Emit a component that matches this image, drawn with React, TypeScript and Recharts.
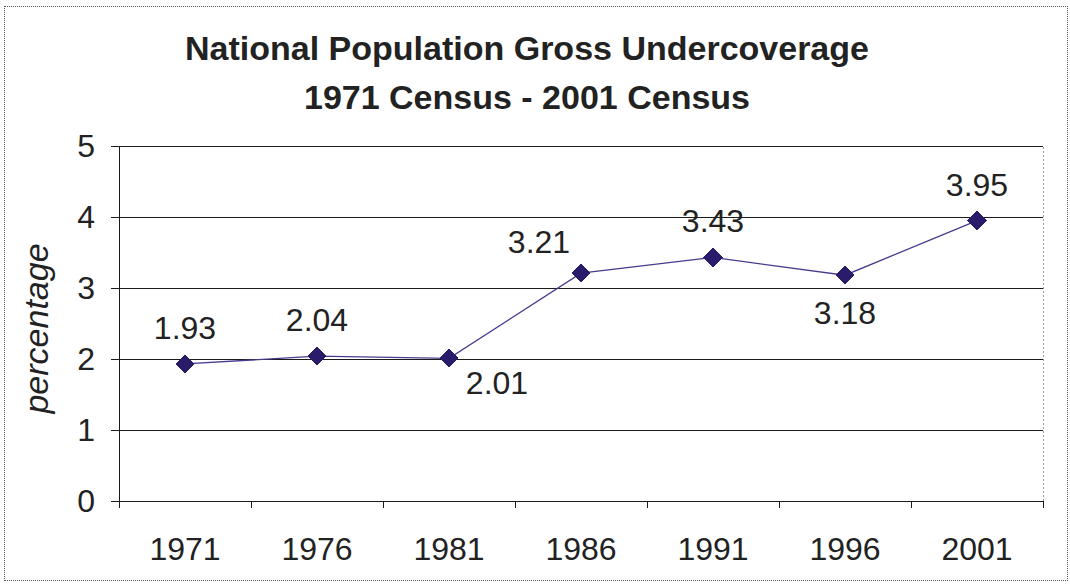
import { CartesianGrid, LabelList, Line, LineChart, ReferenceLine, XAxis, YAxis } from "recharts";

const years = ["1971", "1976", "1981", "1986", "1991", "1996", "2001"];
const undercoverage = [1.93, 2.04, 2.01, 3.21, 3.43, 3.18, 3.95];
const yTicks = [0, 1, 2, 3, 4, 5];
// where each value label sits relative to its point
const labelSpots = ["above", "above", "belowRight", "aboveLeft", "above", "below", "above"];

const data = years.map((year, i) => ({ slot: i + 0.5, year, value: undercoverage[i] }));
const slotTicks = years.map((_, i) => i).concat(years.length);
const labelTicks = years.map((_, i) => i + 0.5);

const font = "'Liberation Sans', Arial, sans-serif";
const ink = "#222";

const Diamond = (props: any) => {
    const { cx, cy } = props;
    if (cx == null || cy == null) return null;
    const r = 9;
    return (
        <path
            d={`M${cx},${cy - r}L${cx + r},${cy}L${cx},${cy + r}L${cx - r},${cy}Z`}
            fill="#2b1b6b"
            stroke="#2b1b6b"
        />
    );
};

const ValueLabel = (props: any) => {
    const { x, y, value, index } = props;
    const spot = labelSpots[index];
    let dx = 0;
    let dy = -36;
    if (spot === "below") dy = 38;
    if (spot === "belowRight") {
        dx = 48;
        dy = 25;
    }
    if (spot === "aboveLeft") {
        dx = -42;
        dy = -31;
    }
    return (
        <text
            x={x + dx}
            y={y + dy}
            textAnchor="middle"
            dominantBaseline="central"
            fontSize={32}
            fontFamily={font}
            fill={ink}
        >
            {value.toFixed(2)}
        </text>
    );
};

const App = () => {
    return (
        <div style={{ position: "absolute", left: 0, top: 0, width: 1070, height: 584, background: "#fff" }}>
            <div
                style={{
                    position: "absolute",
                    left: 4,
                    top: 6,
                    width: 1062,
                    height: 573,
                    border: "1px dotted #555",
                }}
            />
            <div
                style={{
                    position: "absolute",
                    left: 0,
                    width: 1054,
                    top: 24,
                    textAlign: "center",
                    fontFamily: font,
                    fontWeight: "bold",
                    fontSize: 34,
                    lineHeight: "49px",
                    color: ink,
                }}
            >
                <div>National Population Gross Undercoverage</div>
                <div>1971 Census - 2001 Census</div>
            </div>
            <div style={{ position: "absolute", left: 0, top: 0 }}>
                <LineChart
                    width={1070}
                    height={584}
                    data={data}
                    margin={{ top: 146, right: 27, left: 0, bottom: 15 }}
                    style={{ shapeRendering: "crispEdges" }}
                >
                    <CartesianGrid
                        xAxisId="a_slots"
                        vertical={false}
                        stroke="#1a1a1a"
                        strokeWidth={1}
                    />
                    <XAxis
                        xAxisId="a_slots"
                        dataKey="slot"
                        type="number"
                        domain={[0, years.length]}
                        ticks={slotTicks}
                        tickFormatter={() => ""}
                        tickSize={7}
                        height={8}
                        stroke="#1a1a1a"
                    />
                    <XAxis
                        xAxisId="b_labels"
                        dataKey="slot"
                        type="number"
                        domain={[0, years.length]}
                        ticks={labelTicks}
                        tickFormatter={(v: number) => years[Math.floor(v)]}
                        axisLine={false}
                        tickLine={false}
                        tickSize={0}
                        tickMargin={28}
                        height={60}
                        tick={{ fontSize: 32, fontFamily: font, fill: ink }}
                    />
                    <YAxis
                        domain={[0, 5]}
                        ticks={yTicks}
                        width={119}
                        tickSize={8}
                        tickMargin={16}
                        stroke="#1a1a1a"
                        tick={{ fontSize: 32, fontFamily: font, fill: ink }}
                        label={{
                            value: "percentage",
                            angle: -90,
                            position: "insideLeft",
                            offset: 36,
                            dy: 5,
                            style: {
                                fontSize: 34,
                                fontFamily: font,
                                fontStyle: "italic",
                                fill: ink,
                                textAnchor: "middle",
                            },
                        }}
                    />
                    <ReferenceLine
                        xAxisId="a_slots"
                        x={years.length}
                        stroke="#999"
                        strokeDasharray="2 2"
                    />
                    <Line
                        xAxisId="a_slots"
                        type="linear"
                        dataKey="value"
                        stroke="#4a3a8e"
                        strokeWidth={1.3}
                        dot={<Diamond />}
                        activeDot={false}
                        isAnimationActive={false}
                        style={{ shapeRendering: "geometricPrecision" }}
                    >
                        <LabelList dataKey="value" content={<ValueLabel />} />
                    </Line>
                </LineChart>
            </div>
        </div>
    );
};

export default App;
